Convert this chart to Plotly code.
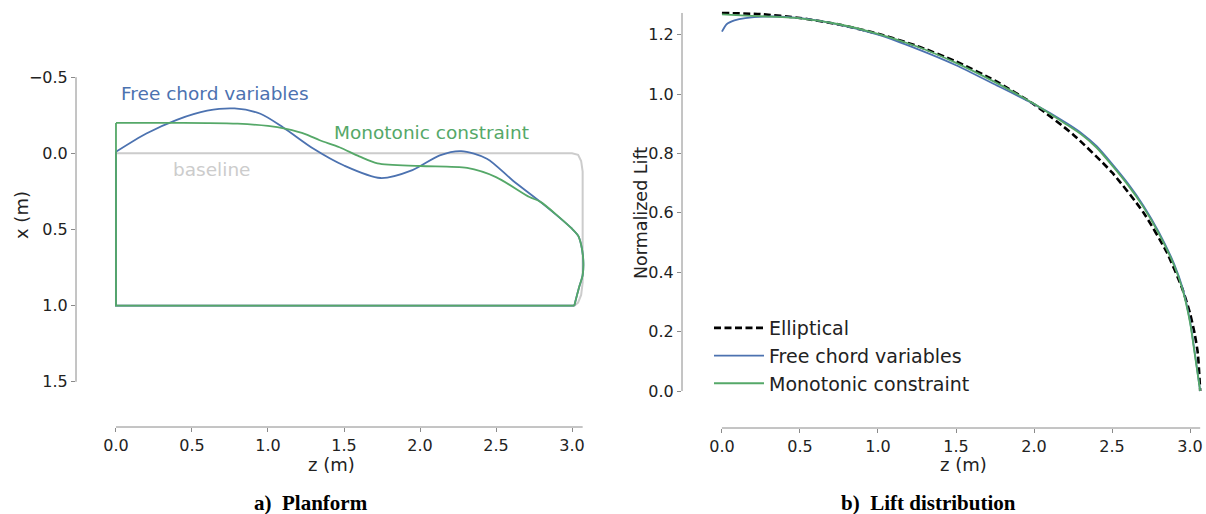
import plotly.graph_objects as go

# ---------------- planform data (z = span, x = chordwise, metres) ----------------
free_le_z = [0.0, 0.2, 0.4, 0.6, 0.78, 0.95, 1.1, 1.3, 1.5, 1.74, 1.95, 2.13, 2.27, 2.44, 2.61, 2.79, 3.0]
free_le_x = [-0.01, -0.13, -0.22, -0.28, -0.295, -0.26, -0.17, -0.03, 0.08, 0.162, 0.11, 0.013, -0.015, 0.035, 0.178, 0.317, 0.495]

mono_le_z = [0.0, 0.3, 0.6, 0.8, 1.0, 1.12, 1.25, 1.34, 1.47, 1.6, 1.72, 2.0, 2.31, 2.5, 2.72, 2.79, 3.0]
mono_le_x = [-0.2, -0.2, -0.199, -0.195, -0.18, -0.16, -0.125, -0.086, -0.04, 0.02, 0.066, 0.083, 0.096, 0.156, 0.287, 0.317, 0.495]

# wing-tip shared by both optimised planforms
tip_z = [3.04, 3.06, 3.074, 3.07, 3.048, 3.015]
tip_x = [0.54, 0.6, 0.70, 0.8, 0.875, 1.0]

# rectangular baseline with rounded tip
base_z = [0.0, 3.0, 3.04, 3.06, 3.07, 3.07, 3.06, 3.04, 3.015, 0.0, 0.0]
base_x = [0.0, 0.0, 0.01, 0.05, 0.12, 0.85, 0.93, 0.98, 1.0, 1.0, 0.0]

trailing_x = 1.0

# ---------------- lift distribution data ----------------
ell_z = [0.0, 0.25, 0.5, 0.75, 1.0, 1.25, 1.5, 1.75, 2.0, 2.25, 2.5, 2.7, 2.85, 2.95, 3.0, 3.03, 3.05, 3.065]
ell_l = [1.273, 1.269, 1.256, 1.234, 1.203, 1.162, 1.110, 1.045, 0.965, 0.864, 0.736, 0.602, 0.468, 0.345, 0.261, 0.192, 0.126, 0.0]

free_z = [0.0, 0.03, 0.08, 0.15, 0.3, 0.5, 0.75, 1.0, 1.25, 1.5, 1.75, 2.0, 2.2, 2.3, 2.4, 2.5, 2.6, 2.7, 2.8, 2.9, 2.95, 3.0, 3.03, 3.065]
free_l = [1.21, 1.235, 1.248, 1.256, 1.261, 1.256, 1.234, 1.200, 1.152, 1.097, 1.032, 0.966, 0.905, 0.87, 0.825, 0.765, 0.70, 0.625, 0.535, 0.425, 0.35, 0.235, 0.13, 0.0]

mono_z = [0.0, 0.15, 0.3, 0.5, 0.75, 1.0, 1.25, 1.5, 1.75, 2.0, 2.2, 2.3, 2.4, 2.5, 2.6, 2.7, 2.8, 2.9, 2.95, 3.0, 3.03, 3.065]
mono_l = [1.268, 1.264, 1.261, 1.255, 1.235, 1.203, 1.16, 1.105, 1.04, 0.967, 0.9, 0.865, 0.82, 0.76, 0.695, 0.62, 0.53, 0.42, 0.345, 0.23, 0.125, 0.0]

left_yticks = [-0.5, 0.0, 0.5, 1.0, 1.5]
ticks_z = [0.0, 0.5, 1.0, 1.5, 2.0, 2.5, 3.0]
lift_ticks = [0.0, 0.2, 0.4, 0.6, 0.8, 1.0, 1.2]

BLUE = "#4C72B0"
GREEN = "#55A868"
GREY = "#CCCCCC"
SPINE = "#8a8a8a"
FONT = "DejaVu Sans"
TXT = "#222222"

fig = go.Figure()

# ---- planform panel ----
fig.add_trace(go.Scatter(x=base_z, y=base_x, mode="lines", line=dict(color=GREY, width=2),
                         xaxis="x", yaxis="y", showlegend=False, hoverinfo="skip"))

for le_z, le_x, col in [(free_le_z, free_le_x, BLUE), (mono_le_z, mono_le_x, GREEN)]:
    # root edge + trailing edge
    fig.add_trace(go.Scatter(x=[tip_z[-1], le_z[0], le_z[0]], y=[trailing_x, trailing_x, le_x[0]],
                             mode="lines", line=dict(color=col, width=1.8),
                             xaxis="x", yaxis="y", showlegend=False, hoverinfo="skip"))
    # leading edge + tip
    fig.add_trace(go.Scatter(x=le_z + tip_z, y=le_x + tip_x, mode="lines",
                             line=dict(color=col, width=1.8, shape="spline", smoothing=0.8),
                             xaxis="x", yaxis="y", showlegend=False, hoverinfo="skip"))

# ---- lift panel ----
fig.add_trace(go.Scatter(x=ell_z, y=ell_l, mode="lines", name="Elliptical",
                         line=dict(color="black", width=2.6, dash="7px,3.5px", shape="spline", smoothing=0.6),
                         xaxis="x2", yaxis="y2"))
fig.add_trace(go.Scatter(x=free_z, y=free_l, mode="lines", name="Free chord variables",
                         line=dict(color=BLUE, width=1.8, shape="spline", smoothing=0.6),
                         xaxis="x2", yaxis="y2"))
fig.add_trace(go.Scatter(x=mono_z, y=mono_l, mode="lines", name="Monotonic constraint",
                         line=dict(color=GREEN, width=1.8, shape="spline", smoothing=0.6),
                         xaxis="x2", yaxis="y2"))

W, H = 1206, 514

axis_common = dict(showgrid=False, zeroline=False, showline=False, ticks="outside", ticklen=4,
                   tickwidth=1, tickcolor=SPINE, tickfont=dict(family=FONT, size=16, color=TXT))


def label(text, px, py, size, color=TXT, family=FONT, angle=0):
    return dict(text=text, x=px / W, y=(H - py) / H, xref="paper", yref="paper", showarrow=False,
                xanchor="center", yanchor="middle", textangle=angle,
                font=dict(family=family, size=size, color=color))


def note(text, z, x, color):
    return dict(text=text, x=z, y=x, xref="x", yref="y", xanchor="left", yanchor="middle",
                showarrow=False, font=dict(family=FONT, size=18.5, color=color))


fig.update_layout(
    width=W, height=H, autosize=False,
    margin=dict(l=0, r=0, t=0, b=0),
    paper_bgcolor="white", plot_bgcolor="white",
    font=dict(family=FONT, color=TXT),
    xaxis=dict(domain=[76 / W, 586 / W], range=[-0.263, 3.092], tickvals=ticks_z,
               ticktext=[f"{v:.1f}" for v in ticks_z], anchor="y", **axis_common),
    yaxis=dict(domain=[(H - 427) / H, (H - 60) / H], range=[1.797, -0.613], tickvals=left_yticks,
               ticktext=[f"{v:.1f}".replace("-", "\u2212") for v in left_yticks], anchor="x", **axis_common),
    xaxis2=dict(domain=[682 / W, 1203 / W], range=[-0.256, 3.083], tickvals=ticks_z,
                ticktext=[f"{v:.1f}" for v in ticks_z], anchor="y2", **axis_common),
    yaxis2=dict(domain=[(H - 428) / H, (H - 10) / H], range=[-0.1246, 1.283], tickvals=lift_ticks,
                ticktext=[f"{v:.1f}" for v in lift_ticks], anchor="x2", **axis_common),
    legend=dict(x=709 / W, y=(H - 309) / H, xanchor="left", yanchor="top", itemwidth=50,
                font=dict(family=FONT, size=19, color=TXT), bgcolor="rgba(0,0,0,0)"),
    shapes=[
        dict(type="line", xref="x domain", yref="y", x0=0, x1=0, y0=-0.5, y1=1.5,
             line=dict(color=SPINE, width=1)),
        dict(type="line", xref="x", yref="y domain", x0=0, x1=3.07, y0=0, y1=0,
             line=dict(color=SPINE, width=1)),
        dict(type="line", xref="x2 domain", yref="y2", x0=0, x1=0, y0=0, y1=1.273,
             line=dict(color=SPINE, width=1)),
        dict(type="line", xref="x2", yref="y2 domain", x0=0, x1=3.065, y0=0, y1=0,
             line=dict(color=SPINE, width=1)),
    ],
    annotations=[
        note("Free chord variables", 0.02, -0.39, BLUE),
        note("Monotonic constraint", 1.42, -0.14, GREEN),
        note("baseline", 0.36, 0.105, GREY),
        label("z (m)", 331, 464, 18),
        label("x (m)", 22, 215, 18, angle=-90),
        label("z (m)", 963, 464, 18),
        label("Normalized Lift", 641, 213, 17.5, angle=-90),
        label("<b>a)\u00a0 Planform</b>", 311, 503, 21, color="black", family="Liberation Serif"),
        label("<b>b)\u00a0 Lift distribution</b>", 928, 503, 21, color="black", family="Liberation Serif"),
    ],
)

fig.write_html("out.html")
